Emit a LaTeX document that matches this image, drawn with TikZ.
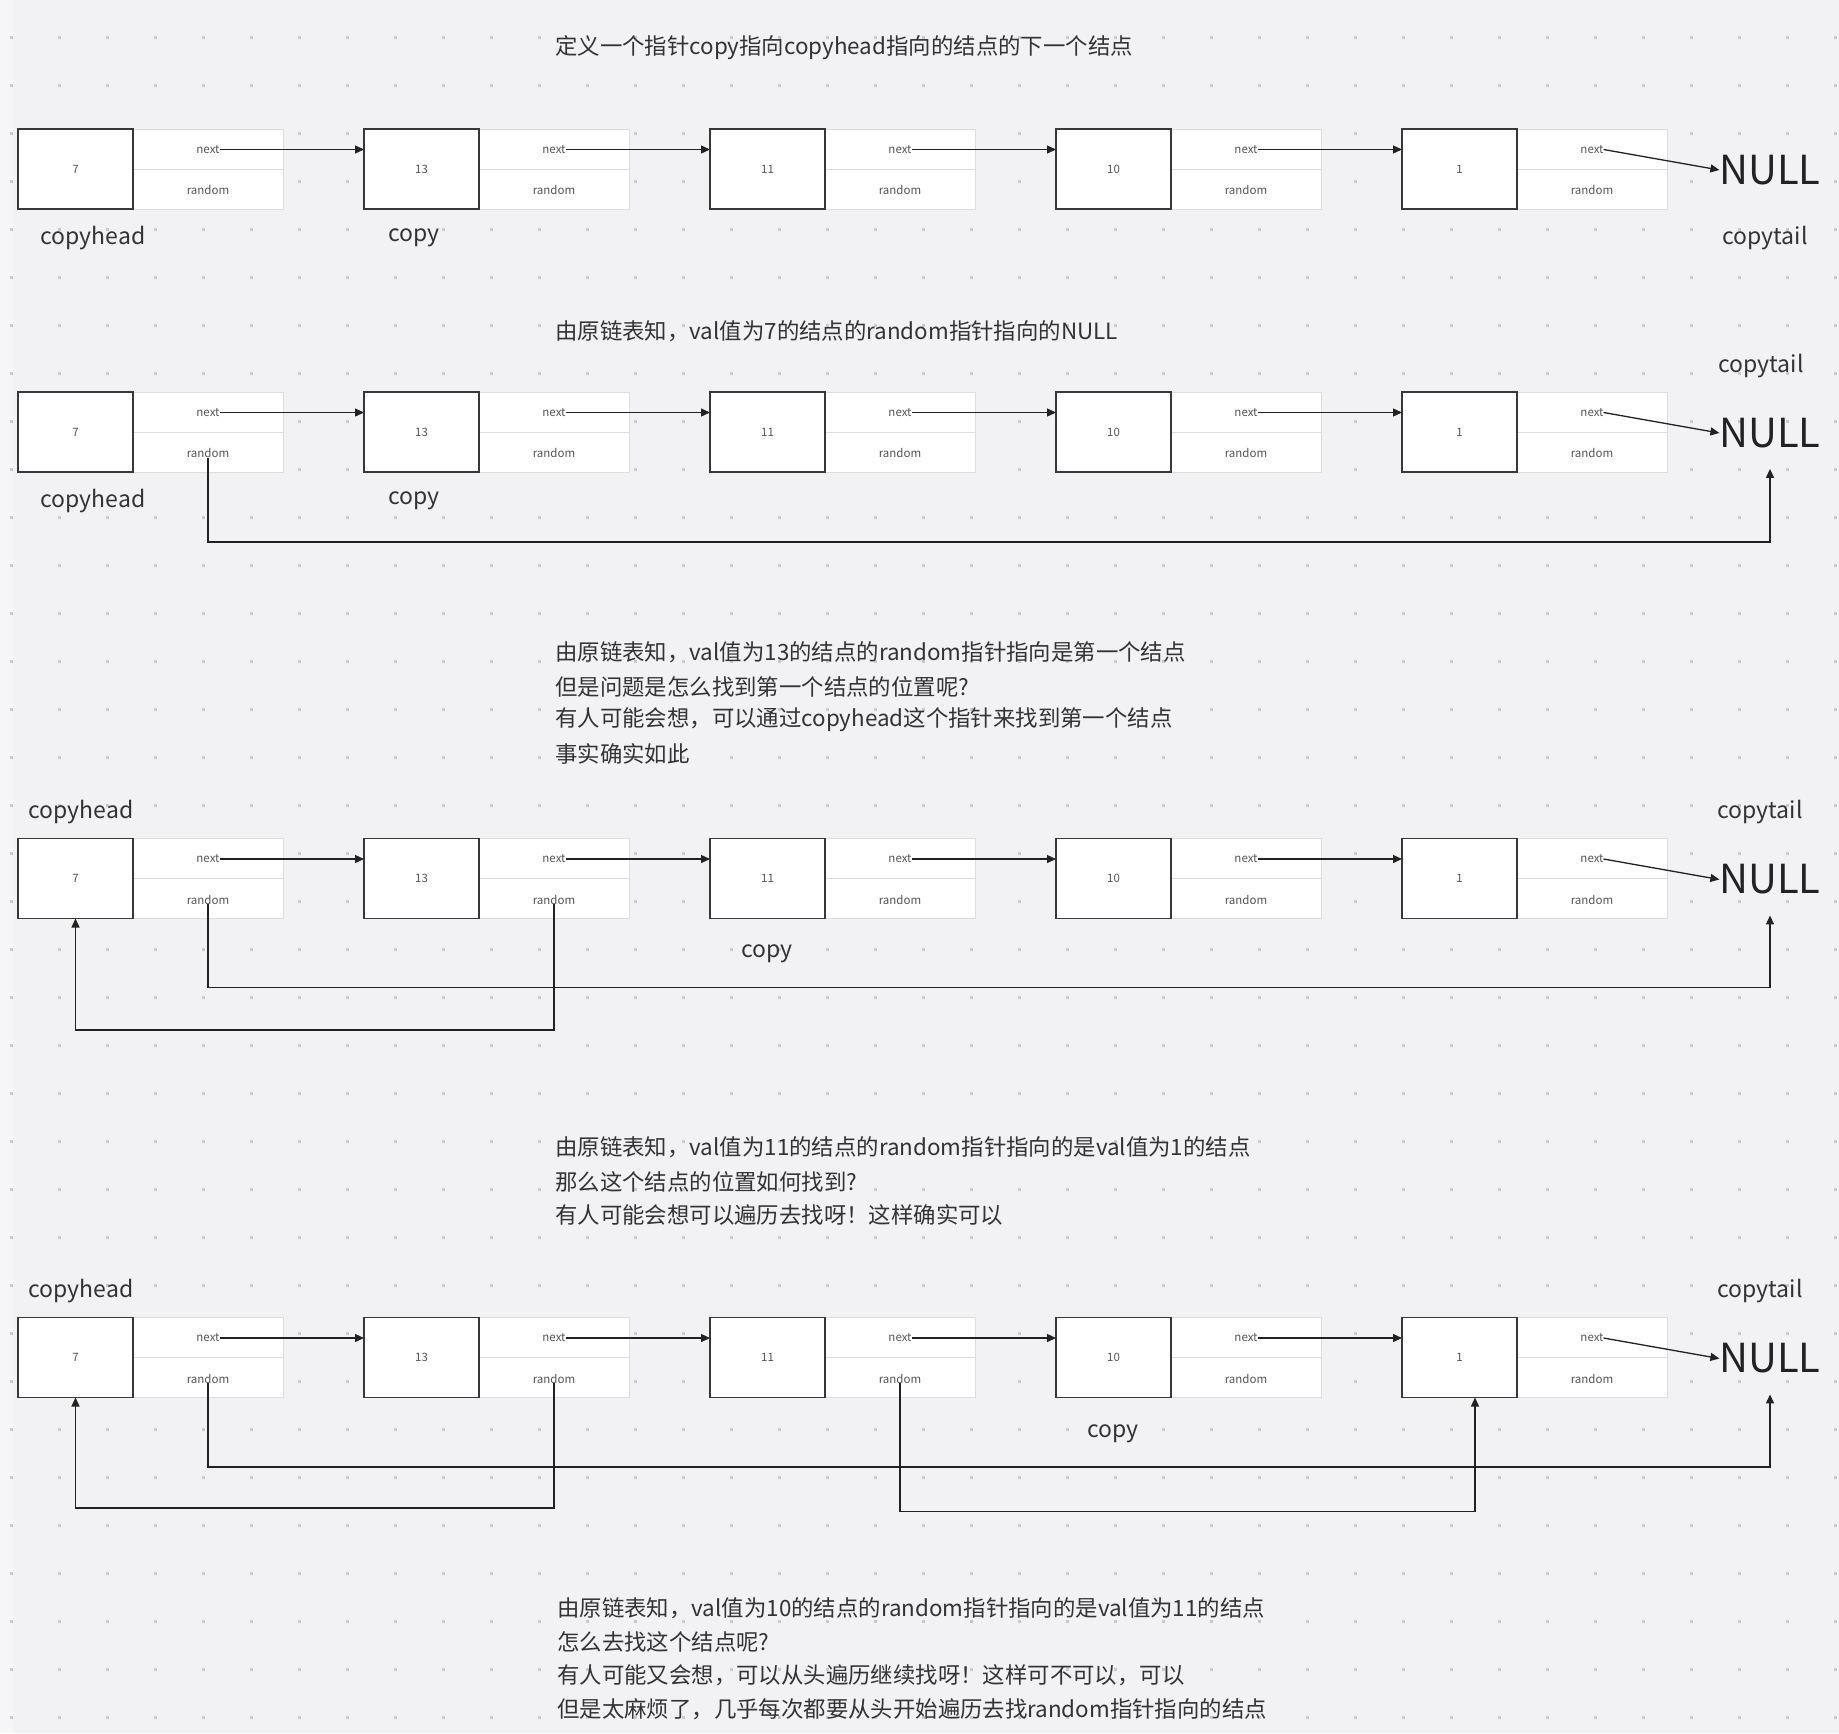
\documentclass[tikz,border=0pt]{standalone}
\usepackage{fontspec}
\setmainfont{Noto Sans CJK SC}
\usetikzlibrary{arrows.meta,calc}
\definecolor{bg}{HTML}{F2F2F4}
\definecolor{bgstrip}{HTML}{F6F6F8}
\definecolor{dotc}{HTML}{C8C8CA}
\definecolor{ink}{HTML}{222222}
\definecolor{txt}{HTML}{333333}
\definecolor{smalltxt}{HTML}{555555}
\definecolor{fieldline}{HTML}{DDDDDD}
\tikzset{
  valbox/.style={draw=ink!90, line width=1.6pt, fill=white, minimum width=115pt, minimum height=80pt, inner sep=0pt, outer sep=0pt, text=smalltxt, font=\fontsize{11.5}{13}\selectfont},
  fieldbox/.style={draw=fieldline, line width=1pt, fill=white, minimum width=150pt, minimum height=80pt, inner sep=0pt, outer sep=0pt},
  divider/.style={draw=fieldline, line width=1pt},
  small/.style={text=smalltxt, font=\fontsize{11.5}{13}\selectfont, inner sep=0pt, outer sep=0pt},
  nulltext/.style={text=ink, font=\fontsize{40}{44}\selectfont, inner sep=0pt, outer sep=0pt},
  lbl/.style={text=txt, font=\fontsize{23}{28}\selectfont, inner sep=0pt},
  title/.style={text=txt, font=\fontsize{22.4}{28}\selectfont, inner sep=0pt, anchor=west},
  arr/.style={draw=ink, line width=1.3pt, -{Triangle[length=9pt,width=8pt]}},
}
\begin{document}
\begin{tikzpicture}[x=1pt,y=-1pt]
\useasboundingbox (0,0) rectangle (1839,1733);
\fill[bg] (0,0) rectangle (1839,1733);
\fill[bgstrip] (0,0) rectangle (13,1733);
\foreach \i in {0,...,38}{
  \foreach \j in {0,...,35}{
    \fill[dotc] ({11+48*\i-1.5},{37+48*\j-1.5}) rectangle ++(3,3);
  }
}
% rows of nodes
\foreach \r/\T in {1/129,2/392,3/838.5,4/1317.5}{
  \foreach \v [count=\i] in {7,13,11,10,1}{
    \pgfmathsetmacro\X{18+346*(\i-1)}
    \node[fieldbox] (f-\r-\i) at (\X+190,\T+40) {};
    \draw[divider] (f-\r-\i.west) -- (f-\r-\i.east);
    \node[valbox] (v-\r-\i) at (\X+57.5,\T+40) {\v};
    \node[small] (n-\r-\i) at (\X+190,\T+20.5) {next};
    \node[small] (r-\r-\i) at (\X+190,\T+61) {random};
  }
  \node[nulltext] (null-\r) at (1770,\T+41) {NULL};
  \foreach \i [evaluate=\i as \j using int(\i+1)] in {1,...,4}{
    \draw[arr] (n-\r-\i.east) -- (n-\r-\i.east -| v-\r-\j.west);
  }
  \draw[arr] (n-\r-5.east) -- (null-\r.west);
}
% titles
\node[title] (t1) at (555,47.5) {定义一个指针copy指向copyhead指向的结点的下一个结点};
\node[title] (t2) at (555,331) {由原链表知，val值为7的结点的random指针指向的NULL};
\node[title] (t3a) at (555,652.5) {由原链表知，val值为13的结点的random指针指向是第一个结点};
\node[title] (t3b) at (555,686.5) {但是问题是怎么找到第一个结点的位置呢?};
\node[title] (t3c) at (555,719.5) {有人可能会想，可以通过copyhead这个指针来找到第一个结点};
\node[title] (t3d) at (555,753.5) {事实确实如此};
\node[title] (t4a) at (555,1147.5) {由原链表知，val值为11的结点的random指针指向的是val值为1的结点};
\node[title] (t4b) at (555,1181.5) {那么这个结点的位置如何找到?};
\node[title] (t4c) at (555,1214.5) {有人可能会想可以遍历去找呀！这样确实可以};
\node[title] (t5a) at (557,1608.5) {由原链表知，val值为10的结点的random指针指向的是val值为11的结点};
\node[title] (t5b) at (557,1641.5) {怎么去找这个结点呢?};
\node[title] (t5c) at (557,1675.5) {有人可能又会想，可以从头遍历继续找呀！这样可不可以，可以};
\node[title] (t5d) at (557,1709.5) {但是太麻烦了，几乎每次都要从头开始遍历去找random指针指向的结点};
% labels
\node[lbl] (h1) at (93,238) {copyhead};
\node[lbl] (c1) at (414,238) {copy};
\node[lbl] (e1) at (1765,238) {copytail};
\node[lbl] (h2) at (93,501) {copyhead};
\node[lbl] (c2) at (414,501) {copy};
\node[lbl] (e2) at (1761,366) {copytail};
\node[lbl] (h3) at (81,812) {copyhead};
\node[lbl] (e3) at (1760,812) {copytail};
\node[lbl] (c3) at (767,954) {copy};
\node[lbl] (h4) at (81,1291) {copyhead};
\node[lbl] (e4) at (1760,1291) {copytail};
\node[lbl] (c4) at (1113,1434) {copy};
% random connectors
\draw[arr] (r-2-1.south) -- (r-2-1.south |- 0,542) -| ([yshift=-21pt]null-2.south);
\draw[arr] (r-3-1.south) -- (r-3-1.south |- 0,987.5) -| ([yshift=-21pt]null-3.south);
\draw[arr] (r-3-2.south) -- (r-3-2.south |- 0,1030) -| (v-3-1.south);
\draw[arr] (r-4-1.south) -- (r-4-1.south |- 0,1467) -| ([yshift=-21pt]null-4.south);
\draw[arr] (r-4-2.south) -- (r-4-2.south |- 0,1508) -| (v-4-1.south);
\draw[arr] (r-4-3.south) -- (r-4-3.south |- 0,1511.5) -| ([xshift=15.5pt]v-4-5.south);
\end{tikzpicture}
\end{document}
